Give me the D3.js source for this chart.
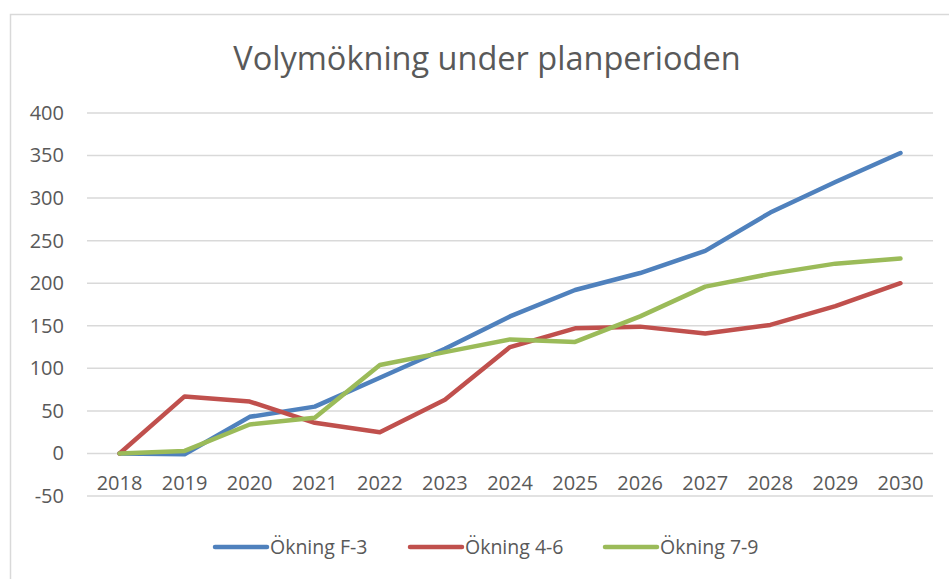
<!DOCTYPE html>
<html>
<head>
<meta charset="utf-8">
<script src="https://cdn.jsdelivr.net/npm/d3@7"></script>
<style>
  body { margin: 0; background: #fff; }
  text { font-family: "Open Sans", sans-serif; fill: #595959; }
</style>
</head>
<body>
<div id="chart"></div>
<script>
// Data
var years = ["2018","2019","2020","2021","2022","2023","2024","2025","2026","2027","2028","2029","2030"];
var okningF3 = [0, -1, 43, 55, 89, 123, 161, 192, 212, 238, 283, 319, 353];
var okning46 = [0, 67, 61, 36, 25, 63, 125, 147, 149, 141, 151, 173, 200];
var okning79 = [0, 3, 34, 42, 104, 119, 134, 131, 161, 196, 211, 223, 229];
var yTicks = [-50, 0, 50, 100, 150, 200, 250, 300, 350, 400];

var series = [
  { name: "Ökning F-3", values: okningF3, color: "#4F81BD" },
  { name: "Ökning 4-6", values: okning46, color: "#C0504D" },
  { name: "Ökning 7-9", values: okning79, color: "#9BBB59" }
];

var svgWidth = 949, svgHeight = 579;
var margin = { top: 113, right: 16, bottom: 83, left: 87 };
var width = svgWidth - margin.left - margin.right;
var height = svgHeight - margin.top - margin.bottom;

var svg = d3.select("#chart").append("svg")
  .attr("width", svgWidth)
  .attr("height", svgHeight);

// chart frame
svg.append("rect")
  .attr("x", 10.5).attr("y", 14.5)
  .attr("width", 960).attr("height", 600)
  .attr("fill", "none")
  .attr("stroke", "#D9D9D9")
  .attr("stroke-width", 1.5);

// title
svg.append("text")
  .attr("x", 487).attr("y", 70)
  .attr("text-anchor", "middle")
  .style("font-size", "32.5px")
  .text("Volymökning under planperioden");

var g = svg.append("g").attr("transform", `translate(${margin.left}, ${margin.top})`);

var x = d3.scaleBand().domain(years).range([0, width]).padding(0);
var y = d3.scaleLinear().domain([-50, 400]).range([height, 0]);

// gridlines
g.selectAll(".grid").data(yTicks).enter().append("line")
  .attr("x1", 0).attr("x2", width)
  .attr("y1", d => y(d)).attr("y2", d => y(d))
  .attr("stroke", "#D9D9D9")
  .attr("stroke-width", 1.5);

// y axis labels (plain hyphen for the minus sign)
var leftAxis = d3.axisLeft(y).tickValues(yTicks).tickSize(0).tickPadding(23)
  .tickFormat(d => String(d));
g.append("g").call(leftAxis)
  .call(s => s.select(".domain").remove())
  .selectAll("text")
  .style("font-size", "20px")
  .attr("fill", "#595959");

// x labels sit just below the zero line
var bottomAxis = d3.axisBottom(x).tickSize(0).tickPadding(22);
g.append("g").attr("transform", `translate(0, ${y(0)})`).call(bottomAxis)
  .call(s => s.select(".domain").remove())
  .selectAll("text")
  .style("font-size", "20px")
  .attr("fill", "#595959");

var line = d3.line()
  .x((d, i) => x(years[i]) + x.bandwidth() / 2)
  .y(d => y(d));

g.selectAll(".series").data(series).enter().append("path")
  .attr("d", d => line(d.values))
  .attr("fill", "none")
  .attr("stroke", d => d.color)
  .attr("stroke-width", 4.5)
  .attr("stroke-linejoin", "round")
  .attr("stroke-linecap", "round");

// legend
var legendX = [215, 410, 605];
var legend = svg.selectAll(".legend").data(series).enter().append("g")
  .attr("transform", (d, i) => `translate(${legendX[i]}, 547)`);

legend.append("line")
  .attr("x1", 0).attr("x2", 52)
  .attr("stroke", d => d.color)
  .attr("stroke-width", 4.5)
  .attr("stroke-linecap", "round");

legend.append("text")
  .attr("x", 55).attr("y", 7)
  .style("font-size", "19.5px")
  .text(d => d.name);
</script>
</body>
</html>
